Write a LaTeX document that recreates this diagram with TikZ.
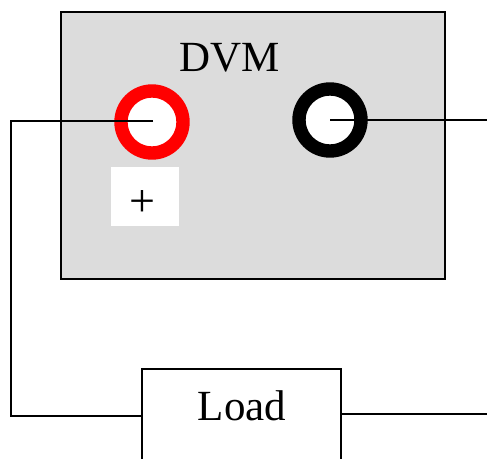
\documentclass[tikz,border=0pt]{standalone}
\usepackage{fontspec}
\setmainfont{Liberation Serif}
\definecolor{panelgray}{RGB}{220,220,220}
\begin{document}
\begin{tikzpicture}[x=1pt,y=-1pt,
  wire/.style={draw=black,line width=1.8pt},
  boxed/.style={draw=black,line width=1.8pt,inner sep=0pt,outer sep=0pt,anchor=north west},
  jack/.style={circle,draw=#1,fill=white,line width=13.4pt,minimum size=62pt,inner sep=0pt,outer sep=0pt},
  bigtext/.style={font=\fontsize{43}{43}\selectfont}]
\useasboundingbox (0,0) rectangle (487,458);
\node[boxed,fill=panelgray,minimum width=384pt,minimum height=267pt] (dvm) at (61,12) {};
\node[bigtext] (dvmlabel) at (230,58) {DVM};
\node[jack=red] (plus) at (152,122) {};
\node[jack=black] (minus) at (330,120) {};
\node[fill=white,minimum width=68pt,minimum height=59pt,inner sep=0pt] (sign) at (144.5,196) {};
\node[font=\fontsize{46}{46}\selectfont] (signlabel) at (142.3,203.5) {+};
\begin{scope}
\clip (140,367) rectangle (345,458);
\node[boxed,fill=white,minimum width=199pt,minimum height=110pt] (load) at (142,369) {};
\end{scope}
\node[bigtext] (loadlabel) at (242,406) {Load};
\coordinate (pe) at (153,121);
\coordinate (a1) at (11,121);
\coordinate (a2) at (11,416);
\coordinate (me) at (330,120);
\coordinate (r1) at (487,120);
\coordinate (r2) at (487,414);
\coordinate (lw) at (142,416);
\coordinate (le) at (340,414);
\draw[wire] (pe) -- (a1) -- (a2) -- (lw);
\draw[wire] (me) -- (r1);
\draw[wire] (le) -- (r2);
\end{tikzpicture}
\end{document}
